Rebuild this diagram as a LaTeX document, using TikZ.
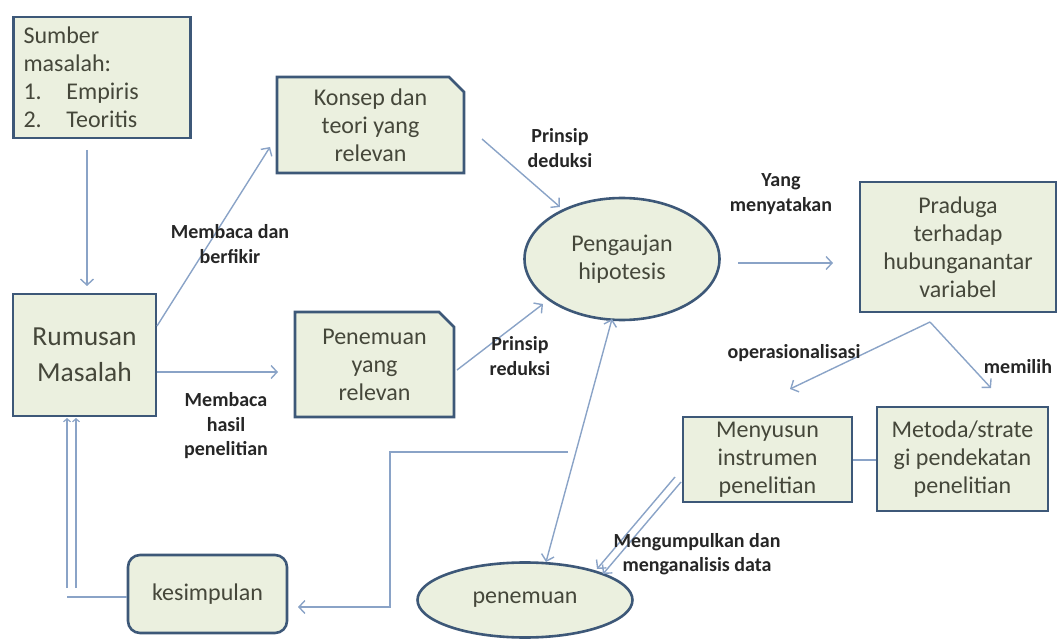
\documentclass[tikz,border=0pt]{standalone}
\usepackage{fontspec}
\setmainfont{Carlito}
\usetikzlibrary{arrows.meta,shapes.geometric}
\definecolor{boxfill}{HTML}{EBF0DF}
\definecolor{boxline}{HTML}{3D5878}
\definecolor{arrcol}{HTML}{8AA3C7}
\definecolor{txtcol}{HTML}{45473A}
\begin{document}
\begin{tikzpicture}[x=1pt,y=-1pt,
  box/.style={draw=boxline,line width=2.6pt,fill=boxfill,text=txtcol,align=center,inner sep=2pt,font=\fontsize{24}{28}\selectfont},
  txtonly/.style={text=txtcol,align=center,inner sep=2pt,font=\fontsize{24}{28}\selectfont},
  snipshape/.style={draw=boxline,line width=2.6pt,fill=boxfill,line join=miter},
  ell/.style={ellipse,draw=boxline,line width=2.6pt,fill=boxfill,text=txtcol,align=center,inner sep=0pt,font=\fontsize{24}{28}\selectfont},
  lbl/.style={align=center,inner sep=1pt,text=black!85,font=\fontsize{20}{24.5}\selectfont\bfseries},
  arr/.style={draw=arrcol,line width=1.4pt,-{Straight Barb[length=6pt,width=13pt,line width=1.4pt]}},
  arrboth/.style={draw=arrcol,line width=1.4pt,{Straight Barb[length=6pt,width=13pt,line width=1.4pt]}-{Straight Barb[length=6pt,width=13pt,line width=1.4pt]}},
  ln/.style={draw=arrcol,line width=1.4pt},
  sarr/.style={draw=arrcol,line width=1.2pt,-{Straight Barb[length=3pt,width=7pt,line width=1.2pt]}}
]
\useasboundingbox (0,0) rectangle (1058,639);

% Sumber masalah
\node[box,minimum width=177pt,minimum height=121pt,text width=157pt,align=left,inner xsep=10pt] (sumber) at (102,77.5)
  {Sumber\\masalah:\\\makebox[43pt][l]{1.}Empiris\\\makebox[43pt][l]{2.}Teoritis};

% Konsep (snipped corner)
\path[snipshape] (277,77) -- (449,77) -- (464,92) -- (464,173) -- (277,173) -- cycle;
\node[txtonly,minimum width=187pt,minimum height=96pt] (konsep) at (370.5,125) {Konsep dan\\teori yang\\relevan};

% Rumusan Masalah
\node[box,minimum width=143pt,minimum height=122pt,font=\fontsize{27.5}{36}\selectfont] (rumusan) at (84.5,355) {Rumusan\\Masalah};

% Penemuan yang relevan (snipped corner)
\path[snipshape] (295,312) -- (439,312) -- (454,327) -- (454,417) -- (295,417) -- cycle;
\node[txtonly,minimum width=159pt,minimum height=105pt] (penrel) at (374.5,364.5) {Penemuan\\yang\\relevan};

% Pengaujan hipotesis
\node[ell,minimum width=195pt,minimum height=122pt] (hipo) at (622,259) {Pengaujan\\hipotesis};

% Praduga
\node[box,minimum width=196pt,minimum height=130pt] (praduga) at (958,247) {Praduga\\terhadap\\hubunganantar\\variabel};

% Menyusun
\node[box,minimum width=169pt,minimum height=85pt] (menyusun) at (767.5,459.5) {Menyusun\\instrumen\\penelitian};

% Metoda
\node[box,minimum width=171pt,minimum height=104pt] (metoda) at (962.5,459) {Metoda/strate\\gi pendekatan\\penelitian};

% kesimpulan
\node[box,rounded corners=12pt,minimum width=159pt,minimum height=78pt] (kesimpulan) at (207.5,594) {kesimpulan};

% penemuan
\node[ell,minimum width=215pt,minimum height=75pt] (penemuan) at (525,600) {penemuan};

% ---- connectors ----
\coordinate (s1) at (87,150);
\coordinate (r1) at (87,286);
\draw[arr] (s1) -- (r1);

\coordinate (rk) at (157,326);
\coordinate (kt) at (270,147);
\draw[arr] (rk) -- (kt);

\draw[arr] (rumusan.east |- 0,372) -- (278,372);

\coordinate (k2) at (482,139);
\coordinate (h1) at (560,207);
\draw[arr] (k2) -- (h1);

\coordinate (p2) at (457,370);
\coordinate (h2) at (543,304);
\draw[arr] (p2) -- (h2);

\coordinate (h3) at (738,263);
\coordinate (pr1) at (833,263);
\draw[arr] (h3) -- (pr1);

\coordinate (pv) at (930,322);
\coordinate (op) at (790,389);
\coordinate (me) at (991,388);
\draw[arr] (pv) -- (op);
\draw[arr] (pv) -- (me);

\draw[ln] (menyusun.east |- 0,460) -- (metoda.west |- 0,460);

\coordinate (pn1) at (546,562);
\coordinate (hp1) at (612,319);
\draw[arrboth] (pn1) -- (hp1);

\coordinate (ms1) at (675,477);
\coordinate (ms2) at (681,482);
\coordinate (pm1) at (597,569);
\coordinate (pm2) at (603,574);
\draw[arr] (ms1) -- (pm1);
\draw[arr] (ms2) -- (pm2);

\coordinate (c1) at (568,452);
\draw[arr] (c1) -- (390,452) -- (390,607) -- (298,607);

\coordinate (kl) at (67,597);
\draw[ln] (kesimpulan.west |- 0,597) -- (kl);
\coordinate (d1a) at (67,588);
\coordinate (d1b) at (67,418);
\coordinate (d2a) at (76,588);
\coordinate (d2b) at (76,418);
\draw[sarr] (d1a) -- (d1b);
\draw[sarr] (d2a) -- (d2b);

% ---- labels ----
\node[lbl] (lb1) at (560,148) {Prinsip\\deduksi};
\node[lbl] (lb2) at (230,244) {Membaca dan\\berfikir};
\node[lbl] (lb3) at (226,426) {Membaca\\hasil\\penelitian};
\node[lbl] (lb4) at (520,356) {Prinsip\\reduksi};
\node[lbl] (lb5) at (781,194) {Yang\\menyatakan};
\node[lbl] (lb6) at (794,353) {operasionalisasi};
\node[lbl] (lb7) at (1018,367) {memilih};
\node[lbl] (lb8) at (697,554) {Mengumpulkan dan\\menganalisis data};

\end{tikzpicture}
\end{document}
